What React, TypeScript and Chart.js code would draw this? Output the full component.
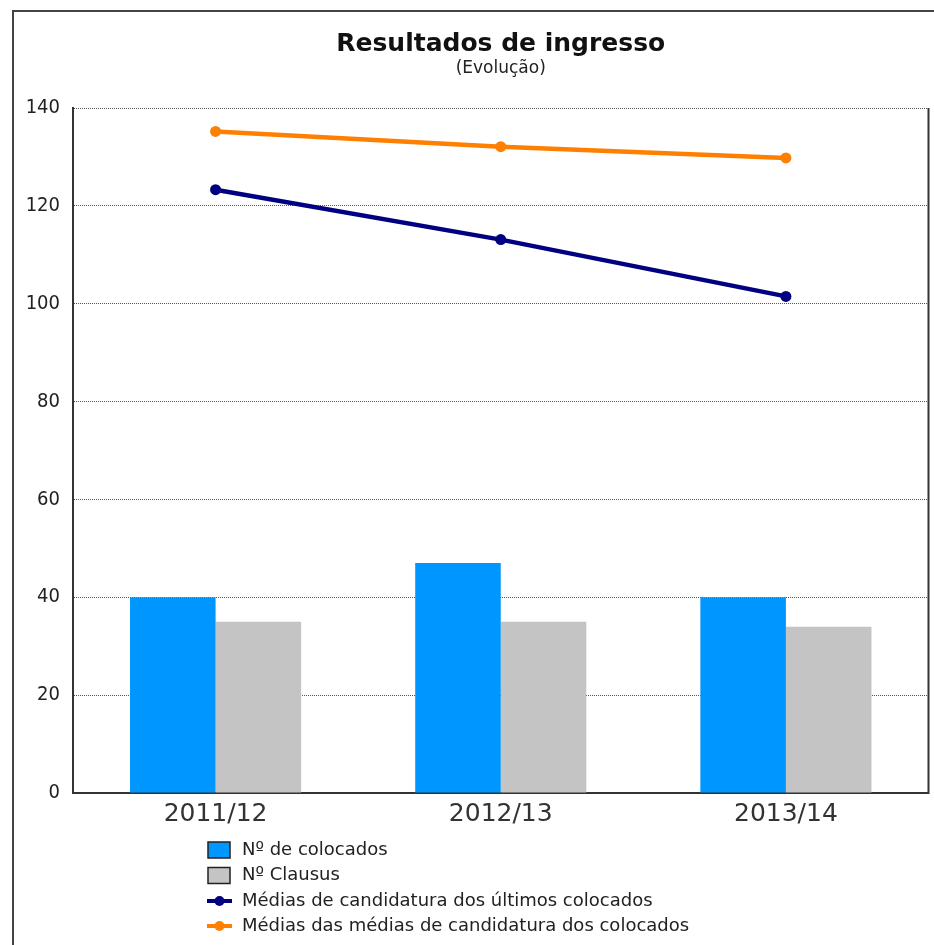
import React, { useEffect, useRef } from "react";
import { Chart, registerables } from "chart.js";

Chart.register(...registerables);

const categories = ["2011/12", "2012/13", "2013/14"];
const colocados = [40, 47, 40];
const clausus = [35, 35, 34];
const ultimosColocados = [123.3, 113.1, 101.5];
const mediasColocados = [135.2, 132.1, 129.8];
const yTicks = [0, 20, 40, 60, 80, 100, 120, 140];

const seriesNames = [
  "Nº de colocados",
  "Nº Clausus",
  "Médias de candidatura dos últimos colocados",
  "Médias das médias de candidatura dos colocados",
];

const BLUE = "#0096FF";
const GRAY = "#C4C4C4";
const NAVY = "#000080";
const ORANGE = "#FF8000";

const framePlugin = {
  id: "framePlugin",
  beforeDraw(chart: any) {
    const ctx = chart.ctx;
    ctx.save();
    ctx.fillStyle = "#ffffff";
    ctx.fillRect(0, 0, chart.width, chart.height);
    ctx.strokeStyle = "#444444";
    ctx.lineWidth = 2;
    ctx.strokeRect(13, 11, chart.width + 20, chart.height + 20);
    ctx.restore();
  },
  afterDraw(chart: any) {
    const ctx = chart.ctx;
    const a = chart.chartArea;
    ctx.save();
    // right border of plot
    ctx.strokeStyle = "#333333";
    ctx.lineWidth = 2;
    ctx.beginPath();
    ctx.moveTo(a.right, a.top);
    ctx.lineTo(a.right, a.bottom + 1);
    ctx.stroke();

    // legend
    const x0 = 207;
    const textX = 242;
    const rowY = [850, 875.5, 901, 926];
    ctx.font = "18px 'DejaVu Sans'";
    ctx.textBaseline = "middle";
    ctx.textAlign = "left";
    chart.data.datasets.forEach((ds: any, i: number) => {
      const y = rowY[i];
      if (ds.type === "bar") {
        ctx.fillStyle = ds.backgroundColor;
        ctx.fillRect(x0 + 1, y - 8, 22, 16);
        ctx.strokeStyle = "#222222";
        ctx.lineWidth = 1.5;
        ctx.strokeRect(x0 + 1, y - 8, 22, 16);
      } else {
        ctx.strokeStyle = ds.borderColor;
        ctx.lineWidth = 4;
        ctx.beginPath();
        ctx.moveTo(x0, y);
        ctx.lineTo(x0 + 25, y);
        ctx.stroke();
        ctx.fillStyle = ds.borderColor;
        ctx.beginPath();
        ctx.arc(x0 + 12.5, y, 5, 0, Math.PI * 2);
        ctx.fill();
      }
      ctx.fillStyle = "#222222";
      ctx.fillText(ds.label, textX, y);
    });
    ctx.restore();
  },
};

export default function App() {
  const canvasRef = useRef<HTMLCanvasElement | null>(null);

  useEffect(() => {
    document.body.style.margin = "0";
    const canvas = canvasRef.current;
    if (!canvas) return;
    const chart = new Chart(canvas, {
      type: "bar",
      data: {
        labels: categories,
        datasets: [
          {
            type: "bar",
            label: seriesNames[0],
            data: colocados,
            backgroundColor: BLUE,
            borderWidth: 0,
            categoryPercentage: 0.6,
            barPercentage: 1.0,
            order: 3,
          },
          {
            type: "bar",
            label: seriesNames[1],
            data: clausus,
            backgroundColor: GRAY,
            borderWidth: 0,
            categoryPercentage: 0.6,
            barPercentage: 1.0,
            order: 3,
          },
          {
            type: "line",
            label: seriesNames[2],
            data: ultimosColocados,
            borderColor: NAVY,
            backgroundColor: NAVY,
            borderWidth: 4.5,
            pointRadius: 5.5,
            pointBackgroundColor: NAVY,
            pointBorderWidth: 0,
            fill: false,
            tension: 0,
            order: 1,
          },
          {
            type: "line",
            label: seriesNames[3],
            data: mediasColocados,
            borderColor: ORANGE,
            backgroundColor: ORANGE,
            borderWidth: 4.5,
            pointRadius: 5.5,
            pointBackgroundColor: ORANGE,
            pointBorderWidth: 0,
            fill: false,
            tension: 0,
            order: 1,
          },
        ] as any,
      },
      options: {
        animation: false,
        responsive: false,
        maintainAspectRatio: false,
        layout: { padding: { left: 0, right: 0, top: 0, bottom: 112 } },
        plugins: {
          legend: { display: false },
          tooltip: { enabled: false },
          title: {
            display: true,
            text: "Resultados de ingresso",
            fullSize: false,
            color: "#111111",
            font: { family: "'DejaVu Sans'", size: 25, weight: "bold", lineHeight: 1.2 },
            padding: { top: 29, bottom: 0 },
          },
          subtitle: {
            display: true,
            text: "(Evolução)",
            fullSize: false,
            color: "#222222",
            font: { family: "'DejaVu Sans'", size: 17, lineHeight: 1.0 },
            padding: { top: 1, bottom: 31 },
          },
        },
        scales: {
          x: {
            type: "category",
            grid: { display: false, drawTicks: false },
            border: { display: true, color: "#333333", width: 2 },
            ticks: {
              color: "#333333",
              padding: 6,
              font: { family: "'DejaVu Sans'", size: 25 },
            },
            afterFit(scale: any) {
              scale.height = 40;
            },
          },
          y: {
            type: "linear",
            min: 0,
            max: 140,
            afterBuildTicks(scale: any) {
              scale.ticks = yTicks.map((v) => ({ value: v }));
            },
            grid: {
              color: "#555555",
              lineWidth: 1,
              drawTicks: false,
            },
            border: { display: true, color: "#333333", width: 2, dash: [1, 1] },
            ticks: {
              color: "#222222",
              padding: 13,
              font: { family: "'DejaVu Sans Condensed', 'DejaVu Sans'", size: 20 },
            },
            afterFit(scale: any) {
              scale.width = 73;
            },
          },
        },
      } as any,
      plugins: [framePlugin],
    });
    return () => chart.destroy();
  }, []);

  return (
    <div style={{ position: "relative", width: 934, height: 945 }}>
      <canvas ref={canvasRef} width={934} height={945} style={{ display: "block" }} />
    </div>
  );
}
